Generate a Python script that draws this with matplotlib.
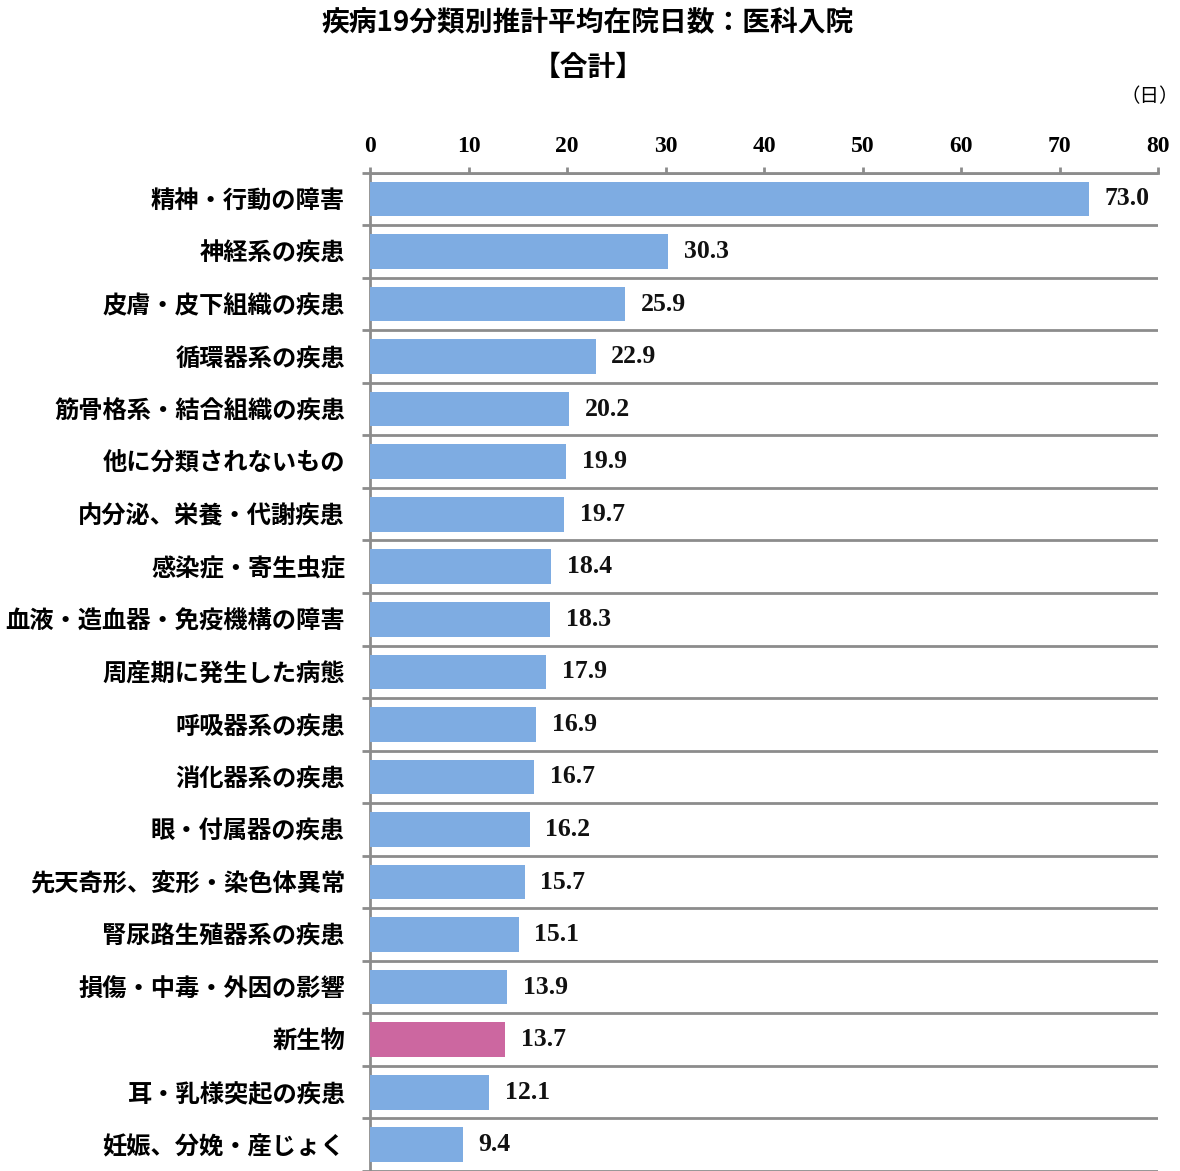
import matplotlib
matplotlib.use("Agg")
import matplotlib.pyplot as plt
import numpy as np

plt.rcParams['font.family'] = ['Noto Sans CJK JP', 'DejaVu Sans']

categories = ["精神・行動の障害", "神経系の疾患", "皮膚・皮下組織の疾患", "循環器系の疾患",
              "筋骨格系・結合組織の疾患", "他に分類されないもの", "内分泌、栄養・代謝疾患",
              "感染症・寄生虫症", "血液・造血器・免疫機構の障害", "周産期に発生した病態",
              "呼吸器系の疾患", "消化器系の疾患", "眼・付属器の疾患", "先天奇形、変形・染色体異常",
              "腎尿路生殖器系の疾患", "損傷・中毒・外因の影響", "新生物", "耳・乳様突起の疾患",
              "妊娠、分娩・産じょく"]
values = [73.0, 30.3, 25.9, 22.9, 20.2, 19.9, 19.7, 18.4, 18.3, 17.9,
          16.9, 16.7, 16.2, 15.7, 15.1, 13.9, 13.7, 12.1, 9.4]
highlight = "新生物"
xticks = [0, 10, 20, 30, 40, 50, 60, 70, 80]

blue = "#7EACE2"
pink = "#CC67A0"
grey = "#8C8C8C"

W, H = 1180, 1171
fig = plt.figure(figsize=(W/100, H/100), dpi=100)
top_px = 172.7
ax = fig.add_axes([370/W, 0, (1158-370)/W, 1 - top_px/H])

y = np.arange(len(categories))
colors = [pink if c == highlight else blue for c in categories]
ax.barh(y, values, height=0.66, color=colors, zorder=3)

ax.set_xlim(0, 80)
step = 52.85
ax.set_ylim(-0.5 + (H - top_px) / step, -0.5)

ax.xaxis.tick_top()
ax.set_xticks(xticks)
ax.set_xticklabels([str(t) for t in xticks], fontsize=17, family='Liberation Serif', fontweight='bold')
ax.tick_params(axis='x', direction='out', length=4.5, width=2, color=grey, pad=7)

ax.set_yticks(y)
ax.set_yticklabels(categories, fontsize=17.5, fontweight='bold')
ax.tick_params(axis='y', which='major', length=0, pad=18)
ax.set_yticks(np.arange(len(categories) + 1) - 0.5, minor=True)
ax.tick_params(axis='y', which='minor', length=6, width=2, color=grey)
ax.grid(axis='y', which='minor', color=grey, linewidth=2, zorder=1)
ax.grid(axis='x', visible=False)

for s in ['right', 'bottom']:
    ax.spines[s].set_visible(False)
ax.spines['left'].set_color(grey)
ax.spines['left'].set_linewidth(2)
ax.spines['top'].set_color(grey)
ax.spines['top'].set_linewidth(2)

for yi, v in zip(y, values):
    ax.text(v + 1.6, yi, f"{v:.1f}", va='center', ha='left', fontsize=18.5,
            family='Liberation Serif', fontweight='bold', color='#111111')

fig.text(588/W, 1 - 22/H, "疾病19分類別推計平均在院日数：医科入院", ha='center', va='center',
         fontsize=20, fontweight='bold')
fig.text(588/W, 1 - 68/H, "【合計】", ha='center', va='center', fontsize=20, fontweight='bold')
fig.text(1150/W, 1 - 97/H, "（日）", ha='center', va='center', fontsize=14)

fig.savefig("out.png", dpi=100, facecolor='white')
